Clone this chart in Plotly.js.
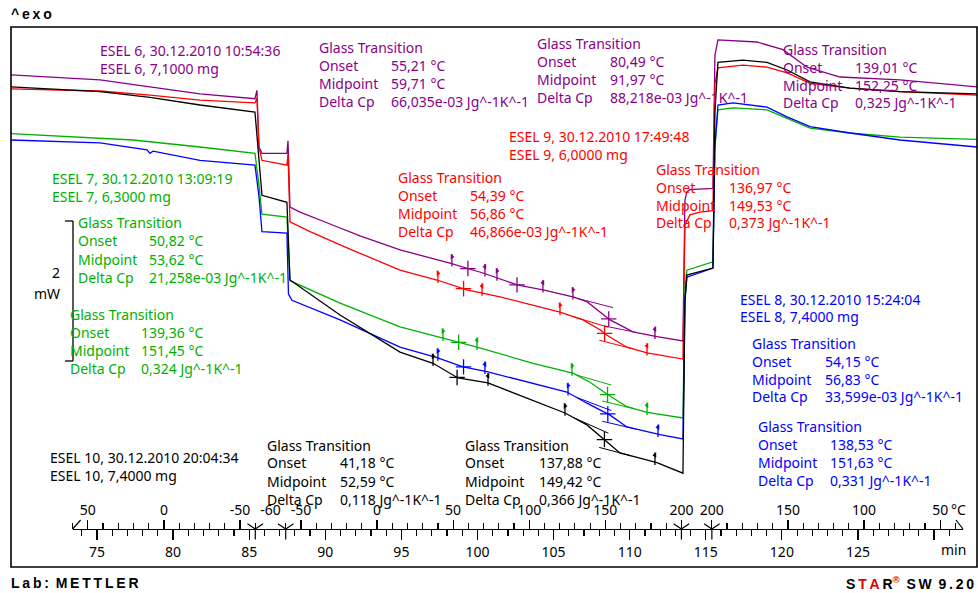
<!DOCTYPE html>
<html>
<head>
<meta charset="utf-8">
<script src="https://cdn.plot.ly/plotly-3.0.1.min.js"></script>
<style>html,body{margin:0;padding:0;background:#fff;}#chart{width:978px;height:593px;}</style>
</head>
<body>
<div id="chart"></div>
<script>
// ================= DATA =================
const sampleNames  = ['ESEL 6', 'ESEL 9', 'ESEL 7', 'ESEL 8', 'ESEL 10'];
const sampleDates  = ['30.12.2010 10:54:36', '30.12.2010 17:49:48', '30.12.2010 13:09:19', '30.12.2010 15:24:04', '30.12.2010 20:04:34'];
const sampleMasses = ['7,1000 mg', '6,0000 mg', '6,3000 mg', '7,4000 mg', '7,4000 mg'];

// time (min) / heat flow (mW, arbitrary offset)
const esel6Time = [69.35, 75.20, 78.48, 81.77, 85.38, 85.51, 85.64, 85.84, 87.48, 87.55, 87.68, 88.34, 90.31, 92.28, 94.91, 98.19, 100.36, 102.60, 104.30, 106.27, 107.19, 108.05, 108.71, 110.22, 111.79, 113.50, 113.63, 113.76, 113.96, 115.47, 115.60, 115.80, 118.36, 120.07, 121.65, 123.82, 127.76, 132.82];
const esel6HF   = [7.03, 6.96, 6.86, 6.76, 6.69, 6.81, 6.00, 5.91, 5.91, 6.09, 5.14, 5.07, 4.90, 4.73, 4.53, 4.34, 4.20, 4.03, 3.96, 3.86, 3.79, 3.64, 3.53, 3.36, 3.29, 3.23, 5.24, 5.36, 5.39, 5.41, 7.31, 7.53, 7.50, 7.39, 7.14, 7.00, 6.96, 6.86];

const esel9Time = [69.35, 75.20, 78.48, 81.77, 85.38, 85.51, 85.64, 85.84, 87.48, 87.55, 87.68, 89.00, 91.43, 94.91, 97.34, 99.31, 101.48, 105.42, 106.93, 108.05, 108.51, 109.82, 111.14, 113.50, 113.63, 113.96, 114.62, 115.47, 115.60, 115.80, 117.44, 119.02, 120.34, 121.85, 124.47, 127.76, 132.82];
const esel9HF   = [6.83, 6.80, 6.74, 6.67, 6.63, 6.70, 6.00, 5.81, 5.74, 5.90, 4.93, 4.79, 4.56, 4.24, 4.10, 3.96, 3.86, 3.64, 3.53, 3.39, 3.31, 3.14, 3.06, 2.97, 4.89, 5.03, 5.07, 5.09, 6.90, 7.13, 7.17, 7.14, 7.06, 6.91, 6.84, 6.79, 6.74];

const esel7Time = [69.35, 77.37, 81.77, 85.38, 85.64, 85.84, 87.48, 87.68, 90.97, 94.91, 97.73, 99.97, 103.65, 106.27, 107.39, 108.57, 109.82, 111.14, 113.50, 113.63, 113.76, 115.47, 115.60, 115.80, 116.79, 119.02, 120.34, 121.85, 124.47, 127.76, 132.82];
const esel7HF   = [6.19, 6.10, 6.00, 5.91, 5.46, 5.04, 5.00, 4.09, 3.77, 3.43, 3.27, 3.14, 2.91, 2.77, 2.64, 2.46, 2.29, 2.21, 2.13, 4.00, 4.24, 4.36, 6.00, 6.53, 6.56, 6.53, 6.41, 6.27, 6.20, 6.14, 6.11];

const esel8Time = [69.35, 75.20, 78.29, 78.48, 78.68, 81.77, 85.38, 85.64, 85.84, 87.48, 87.58, 87.81, 90.97, 94.91, 97.34, 99.05, 100.62, 105.88, 107.19, 108.71, 109.82, 111.99, 113.50, 113.63, 113.76, 115.47, 115.60, 115.80, 116.79, 119.02, 120.34, 121.85, 124.47, 127.76, 132.82];
const esel8HF   = [6.10, 6.06, 5.96, 5.91, 5.94, 5.81, 5.74, 5.30, 4.79, 4.77, 3.90, 3.81, 3.53, 3.14, 2.99, 2.86, 2.79, 2.50, 2.34, 2.17, 2.00, 1.89, 1.83, 3.80, 4.14, 4.27, 6.00, 6.60, 6.63, 6.57, 6.43, 6.29, 6.20, 6.10, 6.00];

const esel10Time = [69.35, 75.20, 78.48, 81.77, 85.38, 85.64, 85.84, 87.48, 87.68, 90.97, 94.91, 97.08, 98.72, 100.69, 105.75, 107.19, 108.51, 109.36, 111.79, 113.50, 113.63, 113.76, 115.47, 115.60, 115.80, 117.44, 119.02, 120.34, 121.85, 124.47, 127.76, 132.82];
const esel10HF   = [6.86, 6.79, 6.71, 6.60, 6.50, 5.80, 5.31, 5.21, 4.10, 3.60, 3.07, 2.91, 2.70, 2.63, 2.20, 2.03, 1.79, 1.63, 1.49, 1.34, 3.80, 4.17, 4.27, 6.50, 7.21, 7.24, 7.21, 7.10, 6.93, 6.84, 6.79, 6.76];

// evaluation limits (flags), min
const esel6Flags  = [98.32, 100.49, 101.28, 104.30, 106.27, 111.66];
const esel9Flags  = [97.40, 100.30, 105.42, 111.14];
const esel7Flags  = [97.73, 99.97, 106.21, 111.14];
const esel8Flags  = [97.40, 100.49, 105.95, 111.86];
const esel10Flags = [97.08, 100.69, 105.75, 111.66];

// baseline extrapolations around the upper glass transition: [start, end] times (min)
const esel6PreBase  = [106.6, 108.9]; const esel6PostBase  = [108.3, 110.4];
const esel9PreBase  = [106.3, 108.6]; const esel9PostBase  = [108.0, 110.2];
const esel7PreBase  = [106.5, 108.8]; const esel7PostBase  = [108.2, 110.3];
const esel8PreBase  = [106.5, 108.8]; const esel8PostBase  = [108.2, 110.4];
const esel10PreBase = [106.3, 108.6]; const esel10PostBase = [108.0, 110.1];

// glass transition results
const esel6Onset = ['55,21', '80,49', '139,01'];  const esel6Mid = ['59,71', '91,97', '152,25'];  const esel6Dcp = ['66,035e-03', '88,218e-03', '0,325'];
const esel9Onset = ['54,39', '136,97'];           const esel9Mid = ['56,86', '149,53'];           const esel9Dcp = ['46,866e-03', '0,373'];
const esel7Onset = ['50,82', '139,36'];           const esel7Mid = ['53,62', '151,45'];           const esel7Dcp = ['21,258e-03', '0,324'];
const esel8Onset = ['54,15', '138,53'];           const esel8Mid = ['56,83', '151,63'];           const esel8Dcp = ['33,599e-03', '0,331'];
const esel10Onset = ['41,18', '137,88'];          const esel10Mid = ['52,59', '149,42'];          const esel10Dcp = ['0,118', '0,366'];

// temperature program
const programTime = [73.4, 85.4, 87.4, 113.4, 115.4, 131.9];
const programTemp = [60, -60, -60, 200, 200, 35];

// time axis ticks
const timeTicks = [75, 80, 85, 90, 95, 100, 105, 110, 115, 120, 125, 130];
const timeTickLabels = ['75', '80', '85', '90', '95', '100', '105', '110', '115', '120', '125', ''];

// scale bar
const scaleBarValue = 2; // mW

// ================= STYLE / LAYOUT =================
const FONT = 'Noto Sans, DejaVu Sans, sans-serif';
const colors = ['#880088', '#ff0000', '#00b000', '#0000ff', '#000000'];
const L = 11, W = 966, B = 567, H = 540, T0 = 69.35, T1 = 132.82, PX_PER_MW = 70;
const pxPerMin = W / (T1 - T0);
const px = x => (x - L) / W;
const py = y => (B - y) / H;
const yData = y => (B - y) / PX_PER_MW;

const curves = [
  {t: esel6Time, y: esel6HF, flags: esel6Flags, pre: esel6PreBase, post: esel6PostBase, on: esel6Onset, mid: esel6Mid, dcp: esel6Dcp},
  {t: esel9Time, y: esel9HF, flags: esel9Flags, pre: esel9PreBase, post: esel9PostBase, on: esel9Onset, mid: esel9Mid, dcp: esel9Dcp},
  {t: esel7Time, y: esel7HF, flags: esel7Flags, pre: esel7PreBase, post: esel7PostBase, on: esel7Onset, mid: esel7Mid, dcp: esel7Dcp},
  {t: esel8Time, y: esel8HF, flags: esel8Flags, pre: esel8PreBase, post: esel8PostBase, on: esel8Onset, mid: esel8Mid, dcp: esel8Dcp},
  {t: esel10Time, y: esel10HF, flags: esel10Flags, pre: esel10PreBase, post: esel10PostBase, on: esel10Onset, mid: esel10Mid, dcp: esel10Dcp}
];

const headerPos = [[98, 51], [507, 136], [50, 178], [738, 299], [48, 457]];
const blockPos = [
  [[317, 389, 47], [535, 608, 43], [781, 853, 49]],
  [[396, 468, 177], [654, 727, 169]],
  [[76, 147, 223], [68, 139, 314]],
  [[750, 823, 343], [756, 828, 426]],
  [[265, 338, 445], [463, 537, 445]]
];

function interp(xs, ys, x) {
  for (let i = 0; i < xs.length - 1; i++) {
    if (x >= xs[i] && x <= xs[i + 1]) {
      return ys[i] + (ys[i + 1] - ys[i]) * (x - xs[i]) / (xs[i + 1] - xs[i]);
    }
  }
  return ys[ys.length - 1];
}
function heatingTempToTime(T) {
  for (let i = 0; i < programTime.length - 1; i++) {
    const a = programTemp[i], b = programTemp[i + 1];
    if (b > a && T >= a && T <= b) return programTime[i] + (T - a) / (b - a) * (programTime[i + 1] - programTime[i]);
  }
  return null;
}
function tempMarks(step) {
  const out = [];
  for (let i = 0; i < programTime.length - 1; i++) {
    const Ta = programTemp[i], Tb = programTemp[i + 1], ta = programTime[i], tb = programTime[i + 1];
    if (Ta === Tb) continue;
    const lo = Math.min(Ta, Tb), hi = Math.max(Ta, Tb);
    for (let T = Math.ceil(lo / step) * step; T <= hi; T += step) {
      const t = ta + (T - Ta) / (Tb - Ta) * (tb - ta);
      if (!out.some(o => Math.abs(o.t - t) < 1e-6)) out.push({t, T});
    }
  }
  return out;
}

const traces = [];
curves.forEach((c, k) => {
  const col = colors[k];
  traces.push({x: c.t, y: c.y, mode: 'lines', line: {color: col, width: 1.3}, hoverinfo: 'skip', xaxis: 'x', yaxis: 'y'});
  // baselines: pre-transition extrapolated forward, post-transition extrapolated backward
  const f = t => interp(c.t, c.y, t);
  const sPre = (f(c.pre[0]) - f(c.pre[0] - 1.5)) / 1.5;
  const sPost = (f(c.post[1] + 1.2) - f(c.post[1])) / 1.2;
  const preY = [f(c.pre[0]), f(c.pre[0]) + sPre * (c.pre[1] - c.pre[0])];
  const postY = [f(c.post[1]) - sPost * (c.post[1] - c.post[0]), f(c.post[1])];
  traces.push({x: [c.pre[0], c.pre[1], null, c.post[0], c.post[1]], y: [preY[0], preY[1], null, postY[0], postY[1]],
    mode: 'lines', line: {color: col, width: 1}, hoverinfo: 'skip', connectgaps: false});
  const fy = c.flags.map(t => f(t));
  traces.push({x: c.flags, y: fy.map(v => v + 0.05), mode: 'markers', hoverinfo: 'skip',
    marker: {symbol: 'line-ns-open', size: 9, color: col, line: {color: col, width: 1.3}}});
  traces.push({x: c.flags, y: fy.map(v => v + 0.1), mode: 'markers', hoverinfo: 'skip',
    marker: {symbol: c.flags.map((_, i) => i % 2 === 0 ? 'triangle-right' : 'triangle-left'), size: 5, color: col, line: {width: 0}}});
  const mt = c.mid.map(m => heatingTempToTime(parseFloat(m.replace(',', '.'))));
  traces.push({x: mt, y: mt.map(t => f(t)), mode: 'markers', hoverinfo: 'skip',
    marker: {symbol: 'cross-thin-open', size: 11, color: col, line: {color: col, width: 1.3}}});
});

// ruler axes
const tStart = programTime[0], tEnd = programTime[programTime.length - 1];
const dom = [(tStart - T0) / (T1 - T0), (tEnd - T0) / (T1 - T0)];
const axisPos = py(529);

const majors = tempMarks(50);
const minors = tempMarks(10);
const labelTimes = majors.map(m => m.t);
const labelTexts = majors.map(m => String(m.T));
const isoTimes = [];
for (let i = 0; i < programTime.length - 1; i++) {
  if (programTemp[i] === programTemp[i + 1]) {
    isoTimes.push(programTime[i], programTime[i + 1]);
    if (programTemp[i] % 50 !== 0) {
      labelTimes.push((programTime[i] + programTime[i + 1]) / 2);
      labelTexts.push(String(programTemp[i]));
    }
  }
}

traces.push({x: isoTimes, y: isoTimes.map(() => axisPos), xaxis: 'x3', yaxis: 'y2', mode: 'markers', hoverinfo: 'skip',
  marker: {symbol: 'y-down-open', size: 13, color: '#000', line: {color: '#000', width: 1.2}}});
traces.push({x: [tStart], y: [0.5], xaxis: 'x4', yaxis: 'y2', mode: 'markers', marker: {opacity: 0}, hoverinfo: 'skip'});
traces.push({x: [tStart], y: [0.5], xaxis: 'x5', yaxis: 'y2', mode: 'markers', marker: {opacity: 0}, hoverinfo: 'skip'});

const tickFont = {family: FONT, size: 14, color: '#000'};

// annotations
const ann = [];
function txt(x, y, text, color, extra) {
  return Object.assign({xref: 'paper', yref: 'paper', x: px(x), y: py(y), text: text, showarrow: false,
    xanchor: 'left', yanchor: 'middle', font: {family: FONT, size: 14, color: color}}, extra || {});
}
const spaced = s => s.split('').join('\u2009');
const NB = '\u00a0\u2009';

curves.forEach((c, k) => {
  const col = colors[k];
  const [hx, hy] = headerPos[k];
  ann.push(txt(hx, hy, sampleNames[k] + ', ' + sampleDates[k], col));
  ann.push(txt(hx, hy + 18, sampleNames[k] + ', ' + sampleMasses[k], col));
  c.on.forEach((on, j) => {
    const [lx, vx, y0] = blockPos[k][j];
    ann.push(txt(lx, y0, 'Glass Transition', col));
    ann.push(txt(lx, y0 + 18, 'Onset', col));
    ann.push(txt(vx, y0 + 18, on + ' °C', col));
    ann.push(txt(lx, y0 + 36, 'Midpoint', col));
    ann.push(txt(vx, y0 + 36, c.mid[j] + ' °C', col));
    ann.push(txt(lx, y0 + 54, 'Delta Cp', col));
    ann.push(txt(vx, y0 + 54, c.dcp[j] + ' Jg^-1K^-1', col));
  });
});
const BOLD = {family: 'Liberation Sans, Arial, sans-serif', size: 14, color: '#000'};
ann.push(txt(62, 272, String(scaleBarValue), '#000', {xanchor: 'right'}));
ann.push(txt(62, 293, 'mW', '#000', {xanchor: 'right'}));
ann.push(txt(953, 549, 'min', '#000', {xanchor: 'center'}));
ann.push(txt(949, 509, '°C', '#000'));
ann.push(txt(9, 14, '<b>' + spaced('^exo') + '</b>', '#000', {font: BOLD}));
ann.push(txt(9, 583, '<b>' + spaced('Lab:') + NB + spaced('METTLER') + '</b>', '#000', {font: BOLD}));
ann.push(txt(976, 583, '<b>S\u2009<span style="color:#e00000">T\u2009A</span>\u2009R<span style="color:#e00000"><sup>®</sup></span>' + NB + spaced('SW') + NB + spaced('9.20') + '</b>', '#000',
  {xanchor: 'right', font: BOLD}));

// shapes
const sbBottom = yData(361);
const shapes = [
  {type: 'rect', xref: 'paper', yref: 'paper', x0: 0, x1: 1, y0: 0, y1: 1, line: {color: '#000', width: 1.6}},
  {type: 'line', xref: 'paper', yref: 'y', x0: px(73), x1: px(73), y0: sbBottom, y1: sbBottom + scaleBarValue, line: {color: '#000', width: 1.3}},
  {type: 'line', xref: 'paper', yref: 'y', x0: px(65), x1: px(73), y0: sbBottom, y1: sbBottom, line: {color: '#000', width: 1.3}},
  {type: 'line', xref: 'paper', yref: 'y', x0: px(65), x1: px(73), y0: sbBottom + scaleBarValue, y1: sbBottom + scaleBarValue, line: {color: '#000', width: 1.3}},
  {type: 'line', xref: 'x', yref: 'paper', x0: tStart, x1: tStart + 8 / pxPerMin, y0: axisPos, y1: axisPos + 9 / H, line: {color: '#000', width: 1.2}},
  {type: 'line', xref: 'x', yref: 'paper', x0: tEnd - 7 / pxPerMin, x1: tEnd, y0: axisPos + 9 / H, y1: axisPos, line: {color: '#000', width: 1.2}}
];

const layout = {
  width: 978, height: 593,
  margin: {l: L, r: 978 - L - W, t: 27, b: 593 - 27 - H, pad: 0},
  paper_bgcolor: '#fff', plot_bgcolor: 'rgba(0,0,0,0)',
  showlegend: false,
  xaxis: {range: [T0, T1], visible: false, domain: [0, 1], fixedrange: true},
  yaxis: {range: [0, H / PX_PER_MW], visible: false, domain: [0, 1], fixedrange: true},
  yaxis2: {range: [0, 1], domain: [0, 1], visible: false, anchor: 'x3', fixedrange: true},
  xaxis3: {domain: dom, range: [tStart, tEnd], anchor: 'free', position: axisPos, side: 'bottom',
    showline: true, linecolor: '#000', linewidth: 1.2, showgrid: false, zeroline: false,
    ticks: 'outside', ticklen: 10, tickwidth: 1.2, tickcolor: '#000',
    tickmode: 'array', tickvals: timeTicks, ticktext: timeTickLabels, tickfont: tickFont,
    minor: {ticks: 'outside', dtick: 1, tick0: 75, ticklen: 6, tickwidth: 1.2, tickcolor: '#000', showgrid: false}},
  xaxis4: {domain: dom, range: [tStart, tEnd], anchor: 'free', position: axisPos, side: 'top',
    showline: false, showgrid: false, zeroline: false, showticklabels: false,
    ticks: 'outside', ticklen: 9, tickwidth: 1.2, tickcolor: '#000',
    tickmode: 'array', tickvals: majors.map(m => m.t),
    minor: {ticks: 'outside', tickmode: 'array', tickvals: minors.map(m => m.t), ticklen: 6, tickwidth: 1.2, tickcolor: '#000', showgrid: false}},
  xaxis5: {domain: dom, range: [tStart, tEnd], anchor: 'free', position: axisPos, side: 'top',
    showline: false, showgrid: false, zeroline: false,
    ticks: 'outside', ticklen: 8, tickcolor: 'rgba(0,0,0,0)',
    tickmode: 'array', tickvals: labelTimes, ticktext: labelTexts, tickfont: tickFont},
  annotations: ann,
  shapes: shapes
};

Plotly.newPlot('chart', traces, layout, {staticPlot: true, displayModeBar: false});
</script>
</body>
</html>
